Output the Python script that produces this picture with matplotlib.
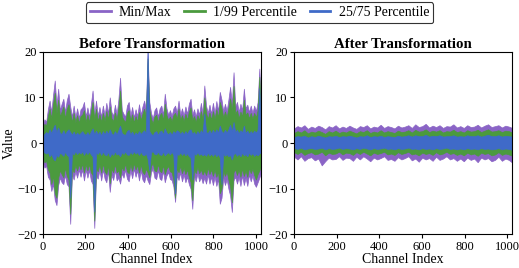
import numpy as np
import matplotlib
matplotlib.use("Agg")
import matplotlib.pyplot as plt
from matplotlib.lines import Line2D

plt.rcParams['font.family'] = ['Liberation Serif', 'DejaVu Serif']
plt.rcParams['axes.unicode_minus'] = True

# ---------------- Data: Before Transformation (128 samples over 1024 channels) -------------
before_max = [
    3.5, 5.2, 4.6, 7.4, 9.3, 6.8, 10.5, 13.7, 8.2, 11.9, 7.2, 8.6, 9.7, 6.8, 9.4, 10.8,
    8.0, 5.8, 8.2, 5.6, 7.6, 5.5, 7.4, 7.8, 9.0, 5.8, 7.8, 5.7, 8.4, 11.5, 6.2, 9.3,
    6.0, 7.9, 5.8, 8.2, 6.0, 8.8, 6.5, 10.0, 6.8, 6.0, 8.4, 6.2, 9.5, 14.3, 7.2, 6.4,
    5.8, 8.2, 9.0, 6.0, 7.9, 5.6, 7.4, 5.9, 8.5, 6.2, 8.0, 9.3, 7.2, 20.0, 9.0, 6.6,
    5.4, 7.2, 7.8, 5.8, 7.6, 8.2, 6.2, 10.8, 7.6, 6.2, 7.2, 6.0, 7.6, 8.2, 6.6, 9.3,
    6.2, 7.6, 6.0, 8.0, 6.4, 8.6, 9.7, 6.2, 7.4, 5.8, 7.6, 6.2, 8.8, 6.4, 12.6, 8.2,
    6.6, 8.4, 6.4, 8.8, 6.5, 9.2, 7.0, 11.2, 9.5, 7.0, 8.6, 7.0, 9.5, 12.3, 8.6, 15.5,
    8.0, 9.0, 6.8, 8.6, 7.2, 11.9, 7.6, 8.4, 6.8, 8.2, 6.6, 8.2, 7.0, 9.0, 16.3, 7.4]
before_p99 = [
    2.8, 4.2, 3.8, 5.9, 7.5, 5.4, 8.5, 11.0, 6.5, 9.5, 5.8, 6.9, 8.0, 5.4, 7.5, 8.5,
    6.5, 4.6, 6.6, 4.5, 6.1, 4.4, 5.9, 6.2, 7.2, 4.6, 6.2, 4.6, 6.7, 9.0, 5.0, 7.5,
    4.8, 6.3, 4.6, 6.6, 4.8, 7.0, 5.2, 8.0, 5.4, 4.8, 6.7, 5.0, 7.6, 11.5, 5.8, 5.1,
    4.6, 6.6, 7.2, 4.8, 6.3, 4.5, 5.9, 4.7, 6.8, 5.0, 6.4, 7.5, 5.8, 18.5, 7.2, 5.3,
    4.3, 5.8, 6.2, 4.6, 6.1, 6.6, 5.0, 8.6, 6.1, 5.0, 5.8, 4.8, 6.1, 6.6, 5.3, 7.5,
    5.0, 6.1, 4.8, 6.4, 5.1, 6.9, 7.8, 5.0, 5.9, 4.6, 6.1, 5.0, 7.0, 5.1, 10.0, 6.6,
    5.3, 6.7, 5.1, 7.0, 5.2, 7.4, 5.6, 9.0, 7.6, 5.6, 6.9, 5.6, 7.6, 9.8, 6.9, 12.5,
    6.4, 7.2, 5.4, 6.9, 5.8, 9.5, 6.1, 6.7, 5.4, 6.6, 5.3, 6.6, 5.6, 7.2, 14.5, 5.9]
before_p75 = [
    1.5, 2.0, 2.4, 2.0, 3.0, 2.2, 3.2, 4.0, 2.4, 3.4, 2.2, 2.0, 2.8, 1.9, 2.6, 3.0,
    2.4, 1.8, 2.5, 1.7, 2.3, 1.8, 2.2, 2.6, 2.0, 1.8, 2.4, 1.7, 2.5, 3.2, 1.9, 2.7,
    1.9, 2.5, 1.7, 2.6, 1.9, 2.7, 2.0, 3.0, 2.1, 1.8, 2.6, 1.9, 2.8, 3.8, 2.2, 1.9,
    1.8, 2.6, 2.9, 1.9, 2.5, 1.7, 2.3, 1.9, 2.6, 2.0, 2.4, 2.8, 2.1, 20.0, 2.6, 2.0,
    1.7, 2.4, 2.6, 1.8, 2.5, 2.7, 1.9, 3.2, 2.3, 1.9, 2.4, 1.8, 2.6, 2.2, 2.8, 2.5,
    2.0, 2.5, 1.9, 2.6, 2.0, 2.8, 3.0, 2.0, 2.4, 1.8, 2.6, 2.0, 2.8, 2.2, 6.5, 2.4,
    2.2, 2.8, 2.1, 2.9, 2.2, 3.0, 2.3, 3.8, 2.6, 2.2, 2.9, 2.3, 3.0, 4.0, 2.5, 4.6,
    2.4, 2.9, 2.1, 2.8, 2.3, 3.8, 2.2, 2.7, 2.0, 2.6, 2.1, 2.7, 2.3, 2.9, 12.0, 2.2]
before_p25 = [
    -1.5, -2.1, -2.3, -2.0, -2.9, -2.4, -3.4, -3.8, -2.6, -3.0, -2.1, -2.4, -2.8, -1.9, -2.6, -2.9,
    -12.0, -2.0, -2.5, -1.8, -2.4, -1.9, -2.3, -1.8, -2.6, -1.9, -2.4, -1.8, -2.5, -2.9, -15.0, -2.1,
    -2.4, -1.8, -2.6, -1.9, -2.5, -2.7, -1.9, -3.0, -2.2, -2.6, -1.8, -2.5, -2.3, -2.9, -2.0, -2.4,
    -1.8, -2.5, -2.6, -1.9, -2.4, -1.8, -2.3, -2.0, -2.6, -1.9, -2.5, -2.7, -2.2, -3.4, -6.0, -2.0,
    -1.8, -2.4, -2.5, -1.9, -2.5, -2.6, -1.9, -2.7, -2.3, -2.0, -2.5, -1.9, -2.6, -11.0, -2.3, -2.6,
    -2.0, -2.6, -2.1, -2.7, -2.2, -2.9, -3.2, -8.0, -2.2, -2.6, -2.0, -2.6, -2.3, -2.7, -2.4, -2.8,
    -2.1, -2.7, -2.3, -2.8, -2.2, -2.9, -2.4, -3.2, -9.0, -2.3, -2.8, -2.4, -2.9, -2.6, -3.6, -2.4,
    -2.2, -2.8, -2.3, -2.9, -2.1, -2.7, -2.4, -2.9, -2.1, -2.6, -2.2, -2.8, -2.4, -2.7, -2.3, -2.0]
before_p01 = [
    -3.0, -4.2, -3.9, -5.8, -6.5, -9.0, -7.2, -11.0, -12.0, -7.6, -6.0, -6.8, -7.5, -5.4, -7.2, -8.0,
    -15.5, -5.4, -6.4, -4.8, -6.0, -4.6, -5.8, -4.5, -6.5, -4.6, -6.0, -4.6, -6.4, -7.0, -17.0, -5.6,
    -6.2, -4.6, -6.5, -4.5, -6.2, -6.8, -4.8, -8.8, -5.6, -6.4, -4.6, -6.4, -6.0, -7.5, -5.2, -6.0,
    -4.5, -6.2, -6.6, -4.6, -6.1, -4.4, -5.8, -4.8, -6.5, -4.7, -6.3, -6.8, -5.6, -6.4, -7.5, -5.0,
    -4.4, -6.0, -6.2, -4.6, -6.1, -6.4, -4.8, -6.8, -5.6, -5.0, -6.2, -6.4, -8.0, -12.0, -5.6, -6.4,
    -5.0, -6.6, -5.4, -6.8, -5.8, -7.5, -8.5, -12.5, -5.6, -6.6, -5.2, -6.6, -5.8, -6.9, -6.0, -7.0,
    -5.4, -6.8, -5.8, -7.2, -5.8, -7.4, -6.2, -11.0, -10.0, -6.0, -7.2, -6.2, -8.0, -9.5, -13.0, -6.4,
    -5.8, -7.0, -5.8, -7.4, -5.6, -7.2, -6.0, -7.4, -5.4, -6.6, -5.6, -7.0, -8.0, -6.8, -6.0, -5.0]
before_min = [
    -4.0, -5.4, -5.0, -7.4, -8.0, -10.5, -9.0, -12.5, -13.6, -9.2, -7.6, -8.6, -9.0, -7.0, -9.0, -9.5,
    -17.7, -6.8, -8.0, -6.2, -7.6, -5.8, -7.4, -5.8, -8.2, -5.8, -7.6, -5.9, -8.2, -9.0, -18.6, -7.2,
    -7.8, -5.8, -8.2, -5.8, -7.8, -8.6, -6.1, -10.7, -7.0, -8.1, -5.9, -8.2, -7.6, -8.9, -6.6, -7.6,
    -5.8, -7.8, -8.4, -5.9, -7.7, -5.6, -7.4, -6.0, -8.2, -6.0, -8.0, -8.6, -7.0, -8.2, -9.0, -6.4,
    -5.6, -7.6, -7.9, -5.9, -7.8, -8.1, -6.1, -8.6, -7.1, -6.4, -7.9, -8.1, -9.5, -12.9, -7.1, -8.1,
    -6.4, -8.4, -6.9, -8.6, -7.4, -9.0, -10.0, -14.4, -7.1, -8.4, -6.6, -8.4, -7.4, -8.8, -7.6, -8.9,
    -6.9, -8.9, -7.4, -9.2, -7.4, -9.4, -7.9, -13.3, -12.0, -7.6, -9.2, -7.9, -10.0, -11.5, -15.1, -8.2,
    -7.4, -8.9, -7.4, -9.4, -7.1, -9.2, -7.6, -9.4, -6.9, -8.4, -7.1, -8.9, -9.6, -8.6, -7.6, -6.4]

# ---------------- Data: After Transformation (64 samples over 1024 channels) -------------
after_max = [
    3.2, 3.7, 3.4, 3.9, 3.1, 3.6, 3.3, 3.8, 3.5, 3.0, 3.7, 3.4, 3.9, 3.2, 3.6, 3.3,
    3.8, 3.4, 3.1, 3.7, 3.5, 3.9, 3.2, 3.6, 3.4, 4.0, 3.3, 3.7, 3.5, 3.2, 3.8, 3.4,
    3.6, 3.9, 3.3, 4.1, 3.5, 3.7, 4.2, 3.4, 3.8, 3.5, 3.9, 3.3, 3.7, 3.6, 4.1, 3.4,
    3.7, 3.3, 3.9, 3.5, 3.6, 4.0, 3.4, 3.8, 4.1, 3.5, 3.7, 3.9, 3.4, 3.8, 3.6, 3.3]
after_p99 = [
    2.2, 2.6, 2.3, 2.8, 2.1, 2.5, 2.3, 2.7, 2.4, 2.0, 2.6, 2.3, 2.7, 2.2, 2.5, 2.3,
    2.7, 2.4, 2.1, 2.6, 2.4, 2.8, 2.2, 2.5, 2.3, 2.8, 2.3, 2.6, 2.4, 2.2, 2.7, 2.4,
    2.5, 2.8, 2.3, 2.9, 2.5, 2.6, 3.0, 2.4, 2.7, 2.5, 2.8, 2.3, 2.6, 2.5, 2.9, 2.4,
    2.6, 2.3, 2.8, 2.5, 2.6, 2.9, 2.4, 2.7, 3.0, 2.5, 2.6, 2.8, 2.4, 2.7, 2.6, 2.3]
after_p75 = [
    1.3, 1.5, 1.4, 1.6, 1.2, 1.5, 1.3, 1.6, 1.4, 1.2, 1.5, 1.4, 1.6, 1.3, 1.5, 1.4,
    1.6, 1.4, 1.2, 1.5, 1.4, 1.7, 1.3, 1.5, 1.4, 1.6, 1.3, 1.5, 1.4, 1.3, 1.6, 1.4,
    1.5, 1.7, 1.4, 1.7, 1.5, 1.5, 1.8, 1.4, 1.6, 1.5, 1.7, 1.4, 1.5, 1.5, 1.7, 1.4,
    1.5, 1.4, 1.7, 1.5, 1.5, 1.7, 1.4, 1.6, 1.8, 1.5, 1.5, 1.7, 1.4, 1.6, 1.5, 1.4]
after_p25 = [
    -1.1, -1.3, -1.0, -1.4, -1.2, -1.1, -1.3, -1.2, -1.0, -1.4, -1.1, -1.3, -1.2, -1.0, -1.3, -1.1,
    -1.2, -1.4, -1.1, -1.3, -1.0, -1.2, -1.4, -1.1, -1.3, -1.2, -1.0, -1.3, -1.2, -1.4, -1.1, -1.3,
    -1.2, -1.0, -1.3, -1.2, -1.4, -1.1, -1.3, -1.2, -1.4, -1.1, -1.3, -1.2, -1.0, -1.3, -1.2, -1.4,
    -1.2, -1.4, -1.1, -1.3, -1.2, -1.4, -1.1, -1.3, -1.2, -1.4, -1.3, -1.1, -1.4, -1.2, -1.3, -1.5]
after_p01 = [
    -2.0, -2.4, -1.9, -2.6, -2.2, -2.0, -2.5, -2.3, -1.9, -2.7, -2.1, -2.4, -2.3, -1.9, -2.5, -2.1,
    -2.2, -2.6, -2.0, -2.4, -1.9, -2.3, -2.7, -2.1, -2.4, -2.2, -1.9, -2.5, -2.3, -2.6, -2.0, -2.4,
    -2.2, -1.9, -2.5, -2.3, -2.7, -2.1, -2.4, -2.2, -2.6, -2.0, -2.5, -2.3, -1.9, -2.4, -2.2, -2.6,
    -2.3, -2.7, -2.1, -2.5, -2.3, -2.8, -2.1, -2.4, -2.2, -2.7, -2.5, -2.0, -2.6, -2.3, -2.5, -2.8]
after_min = [
    -3.0, -3.6, -2.9, -3.9, -3.3, -3.1, -3.8, -3.4, -4.9, -4.0, -3.2, -3.6, -3.5, -2.9, -3.7, -3.2,
    -3.3, -3.9, -3.0, -3.6, -2.9, -3.4, -4.0, -3.2, -3.6, -3.3, -2.9, -3.7, -3.5, -3.9, -3.1, -3.6,
    -3.3, -2.9, -3.8, -3.4, -4.1, -3.2, -3.6, -3.3, -3.9, -3.0, -3.7, -3.4, -2.9, -3.6, -3.3, -3.9,
    -3.4, -4.0, -3.2, -3.7, -3.4, -4.2, -3.2, -3.6, -3.3, -4.0, -3.7, -3.0, -3.9, -3.4, -3.7, -4.3]

n_channels = 1024
titles = ["Before Transformation", "After Transformation"]
legend_labels = ["Min/Max", "1/99 Percentile", "25/75 Percentile"]
x_ticks = [0, 200, 400, 600, 800, 1000]
y_ticks = [-20, -10, 0, 10, 20]

c_purple = "#8a64c6"
c_green = "#4b9a3e"
c_blue = "#3f6ac8"

fig = plt.figure(figsize=(5.19, 2.68), dpi=100)
ax1 = fig.add_axes([0.0823, 0.1257, 0.4207, 0.6813])
ax2 = fig.add_axes([0.5665, 0.1257, 0.4206, 0.6813])

datasets = [
    (before_max, before_p99, before_p75, before_p25, before_p01, before_min),
    (after_max, after_p99, after_p75, after_p25, after_p01, after_min),
]

for ax, title, data in zip([ax1, ax2], titles, datasets):
    mx, p99, p75, p25, p01, mn = [np.asarray(d) for d in data]
    x = np.linspace(0, n_channels - 1, len(mx))
    ax.fill_between(x, mn, mx, color=c_purple, linewidth=0.5, edgecolor=c_purple)
    ax.fill_between(x, p01, p99, color=c_green, linewidth=0.5, edgecolor=c_green)
    ax.fill_between(x, p25, p75, color=c_blue, linewidth=0.5, edgecolor=c_blue)
    ax.set_xlim(0, n_channels - 1)
    ax.set_ylim(-20, 20)
    ax.set_xticks(x_ticks)
    ax.set_yticks(y_ticks)
    ax.tick_params(labelsize=9, length=3, width=0.8, pad=1.5)
    ax.set_title(title, fontsize=10.7, fontweight='bold', pad=3)
    ax.set_xlabel("Channel Index", fontsize=10, labelpad=0)
    for s in ax.spines.values():
        s.set_linewidth(0.8)

ax1.set_ylabel("Value", fontsize=10, labelpad=1)

handles = [Line2D([0], [0], color=c, lw=2) for c in (c_purple, c_green, c_blue)]
leg = fig.legend(handles, legend_labels, loc='upper center', ncol=3,
                 bbox_to_anchor=(0.5, 1.0), fontsize=10, frameon=True,
                 fancybox=True, edgecolor='#333333', handlelength=1.5,
                 columnspacing=0.9, handletextpad=0.6, borderpad=0.3,
                 borderaxespad=0.15)
leg.get_frame().set_linewidth(0.8)
leg.get_frame().set_alpha(1)

fig.savefig("out.png", dpi=100)
